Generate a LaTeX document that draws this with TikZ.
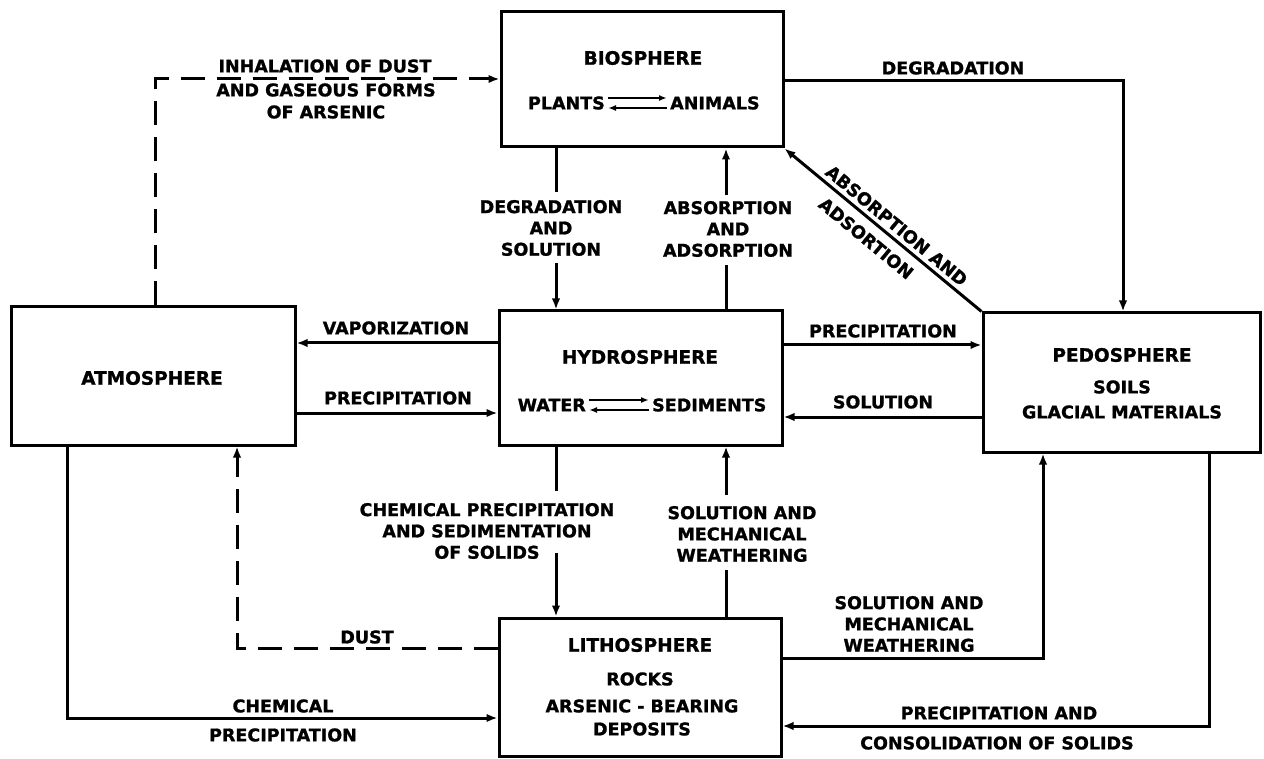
\documentclass[tikz,border=0pt]{standalone}
\usepackage{fontspec}
\setmainfont{DejaVu Sans}[BoldFeatures={FakeBold=1.2}]
\usetikzlibrary{arrows.meta}
\begin{document}
\begin{tikzpicture}[x=1pt,y=-1pt,
  box/.style={draw, line width=3pt, inner sep=0pt},
  ttl/.style={font=\fontsize{18.5}{22}\selectfont\bfseries, inner sep=0pt},
  sub/.style={font=\fontsize{17.5}{21}\selectfont\bfseries, inner sep=0pt},
  lbl/.style={font=\fontsize{17.5}{21.3}\selectfont\bfseries, inner sep=0pt, align=center},
  conn/.style={line width=3pt},
  tipA/.tip={Latex[length=11pt,width=8.5pt]},
  arr/.style={conn, -tipA},
  dsh/.style={conn, dash pattern=on 24pt off 12pt},
  eq/.style={line width=2.2pt, -{Latex[length=8pt,width=6pt]}}
]
\useasboundingbox (0,0) rectangle (1264,759);

% ---------- boxes ----------
\node[box, minimum width=282pt, minimum height=135pt] (bio) at (642,79.5) {};
\node[box, minimum width=283pt, minimum height=134pt] (hyd) at (640.5,378) {};
\node[box, minimum width=284pt, minimum height=138pt] (atm) at (153,376) {};
\node[box, minimum width=277pt, minimum height=139pt] (ped) at (1121.5,382.5) {};
\node[box, minimum width=282pt, minimum height=138pt] (lit) at (640,687) {};

% ---------- box texts ----------
\node[ttl] (tb) at (643,58) {BIOSPHERE};
\node[sub, anchor=east] (pl) at (605,103) {PLANTS};
\node[sub, anchor=west] (an) at (670,103) {ANIMALS};
\draw[eq] ([xshift=3pt,yshift=5pt]pl.east) -- ([xshift=-3pt,yshift=5pt]an.west);
\draw[eq] ([xshift=-3pt,yshift=-5pt]an.west) -- ([xshift=3pt,yshift=-5pt]pl.east);

\node[ttl] (th) at (640,357) {HYDROSPHERE};
\node[sub, anchor=east] (wa) at (586,405) {WATER};
\node[sub, anchor=west] (se) at (652,405) {SEDIMENTS};
\draw[eq] ([xshift=3pt,yshift=5pt]wa.east) -- ([xshift=-3pt,yshift=5pt]se.west);
\draw[eq] ([xshift=-3pt,yshift=-5pt]se.west) -- ([xshift=3pt,yshift=-5pt]wa.east);

\node[ttl] (ta) at (152,378) {ATMOSPHERE};

\node[ttl] (tp) at (1122,355) {PEDOSPHERE};
\node[sub] (so) at (1122,387) {SOILS};
\node[sub] (gl) at (1122,412) {GLACIAL MATERIALS};

\node[ttl] (tl) at (640,645) {LITHOSPHERE};
\node[sub] (ro) at (640,679) {ROCKS};
\node[sub] (ar) at (642,706) {ARSENIC - BEARING};
\node[sub] (de) at (642,729) {DEPOSITS};

% ---------- helper coordinates ----------
\coordinate (xa) at (556,0);
\coordinate (xb) at (726,0);

% inhalation (dashed) atmosphere -> biosphere
\coordinate (c1) at (155,79);
\draw[dsh, -tipA] (atm.north -| c1) -- (c1) -- (bio.west |- c1);
\node[lbl] (l1a) at (325,66) {INHALATION OF DUST};
\node[lbl] (l1b) at (326,90) {AND GASEOUS FORMS};
\node[lbl] (l1c) at (326,112) {OF ARSENIC};

% degradation biosphere -> pedosphere
\coordinate (c2) at (1123,81);
\draw[arr] (bio.east |- c2) -- (c2) -- (ped.north -| c2);
\node[lbl] (l2) at (953,68) {DEGRADATION};

% absorption diagonal pedosphere -> biosphere
\draw[conn, tipA-] (bio.south east) -- (ped.north west)
  node[lbl, pos=0.53, sloped, above=4pt] (l3a) {ABSORPTION AND}
  node[lbl, pos=0.47, sloped, below=9pt] (l3b) {ADSORTION};

% degradation and solution biosphere -> hydrosphere
\coordinate (g1a) at (556,192);
\coordinate (g1b) at (556,263);
\draw[conn] (bio.south -| xa) -- (g1a);
\draw[arr] (g1b) -- (hyd.north -| xa);
\node[lbl] (l4) at (551,228) {DEGRADATION\\AND\\SOLUTION};

% absorption and adsorption hydrosphere -> biosphere
\coordinate (g2a) at (726,195);
\coordinate (g2b) at (726,265);
\draw[conn] (hyd.north -| xb) -- (g2b);
\draw[arr] (g2a) -- (bio.south -| xb);
\node[lbl] (l5) at (728,229) {ABSORPTION\\AND\\ADSORPTION};

% vaporization hydrosphere -> atmosphere
\coordinate (yv) at (0,343);
\draw[arr] (hyd.west |- yv) -- (atm.east |- yv);
\node[lbl] (l6) at (396,328) {VAPORIZATION};

% precipitation atmosphere -> hydrosphere
\coordinate (yp) at (0,413);
\draw[arr] (atm.east |- yp) -- (hyd.west |- yp);
\node[lbl] (l7) at (398,398) {PRECIPITATION};

% precipitation hydrosphere -> pedosphere
\coordinate (yq) at (0,345);
\draw[arr] (hyd.east |- yq) -- (ped.west |- yq);
\node[lbl] (l8) at (883,331) {PRECIPITATION};

% solution pedosphere -> hydrosphere
\coordinate (ys) at (0,417);
\draw[arr] (ped.west |- ys) -- (hyd.east |- ys);
\node[lbl] (l9) at (883,402) {SOLUTION};

% chemical precipitation hydrosphere -> lithosphere
\coordinate (g3a) at (556,491);
\coordinate (g3b) at (556,553);
\draw[conn] (hyd.south -| xa) -- (g3a);
\draw[arr] (g3b) -- (lit.north -| xa);
\node[lbl] (l10) at (487,531) {CHEMICAL PRECIPITATION\\AND SEDIMENTATION\\OF SOLIDS};

% solution and weathering lithosphere -> hydrosphere
\coordinate (g4a) at (726,495);
\coordinate (g4b) at (726,570);
\draw[conn] (lit.north -| xb) -- (g4b);
\draw[arr] (g4a) -- (hyd.south -| xb);
\node[lbl] (l11) at (742,534) {SOLUTION AND\\MECHANICAL\\WEATHERING};

% solution and weathering lithosphere -> pedosphere
\coordinate (c5) at (1043,658);
\draw[arr] (lit.east |- c5) -- (c5) -- (ped.south -| c5);
\node[lbl] (l12) at (909,624) {SOLUTION AND\\MECHANICAL\\WEATHERING};

% precipitation and consolidation pedosphere -> lithosphere
\coordinate (c6) at (1209,726);
\draw[arr] (ped.south -| c6) -- (c6) -- (lit.east |- c6);
\node[lbl] (l13a) at (999,713) {PRECIPITATION AND};
\node[lbl] (l13b) at (997,743) {CONSOLIDATION OF SOLIDS};

% chemical precipitation atmosphere -> lithosphere
\coordinate (c7) at (67,718);
\draw[arr] (atm.south -| c7) -- (c7) -- (lit.west |- c7);
\node[lbl] (l14a) at (283,706) {CHEMICAL};
\node[lbl] (l14b) at (283,735) {PRECIPITATION};

% dust lithosphere -> atmosphere (dashed)
\coordinate (c8) at (237,648);
\draw[dsh, -tipA] (lit.west |- c8) -- (c8) -- (atm.south -| c8);
\node[lbl] (l15) at (367,637) {DUST};

\end{tikzpicture}
\end{document}
